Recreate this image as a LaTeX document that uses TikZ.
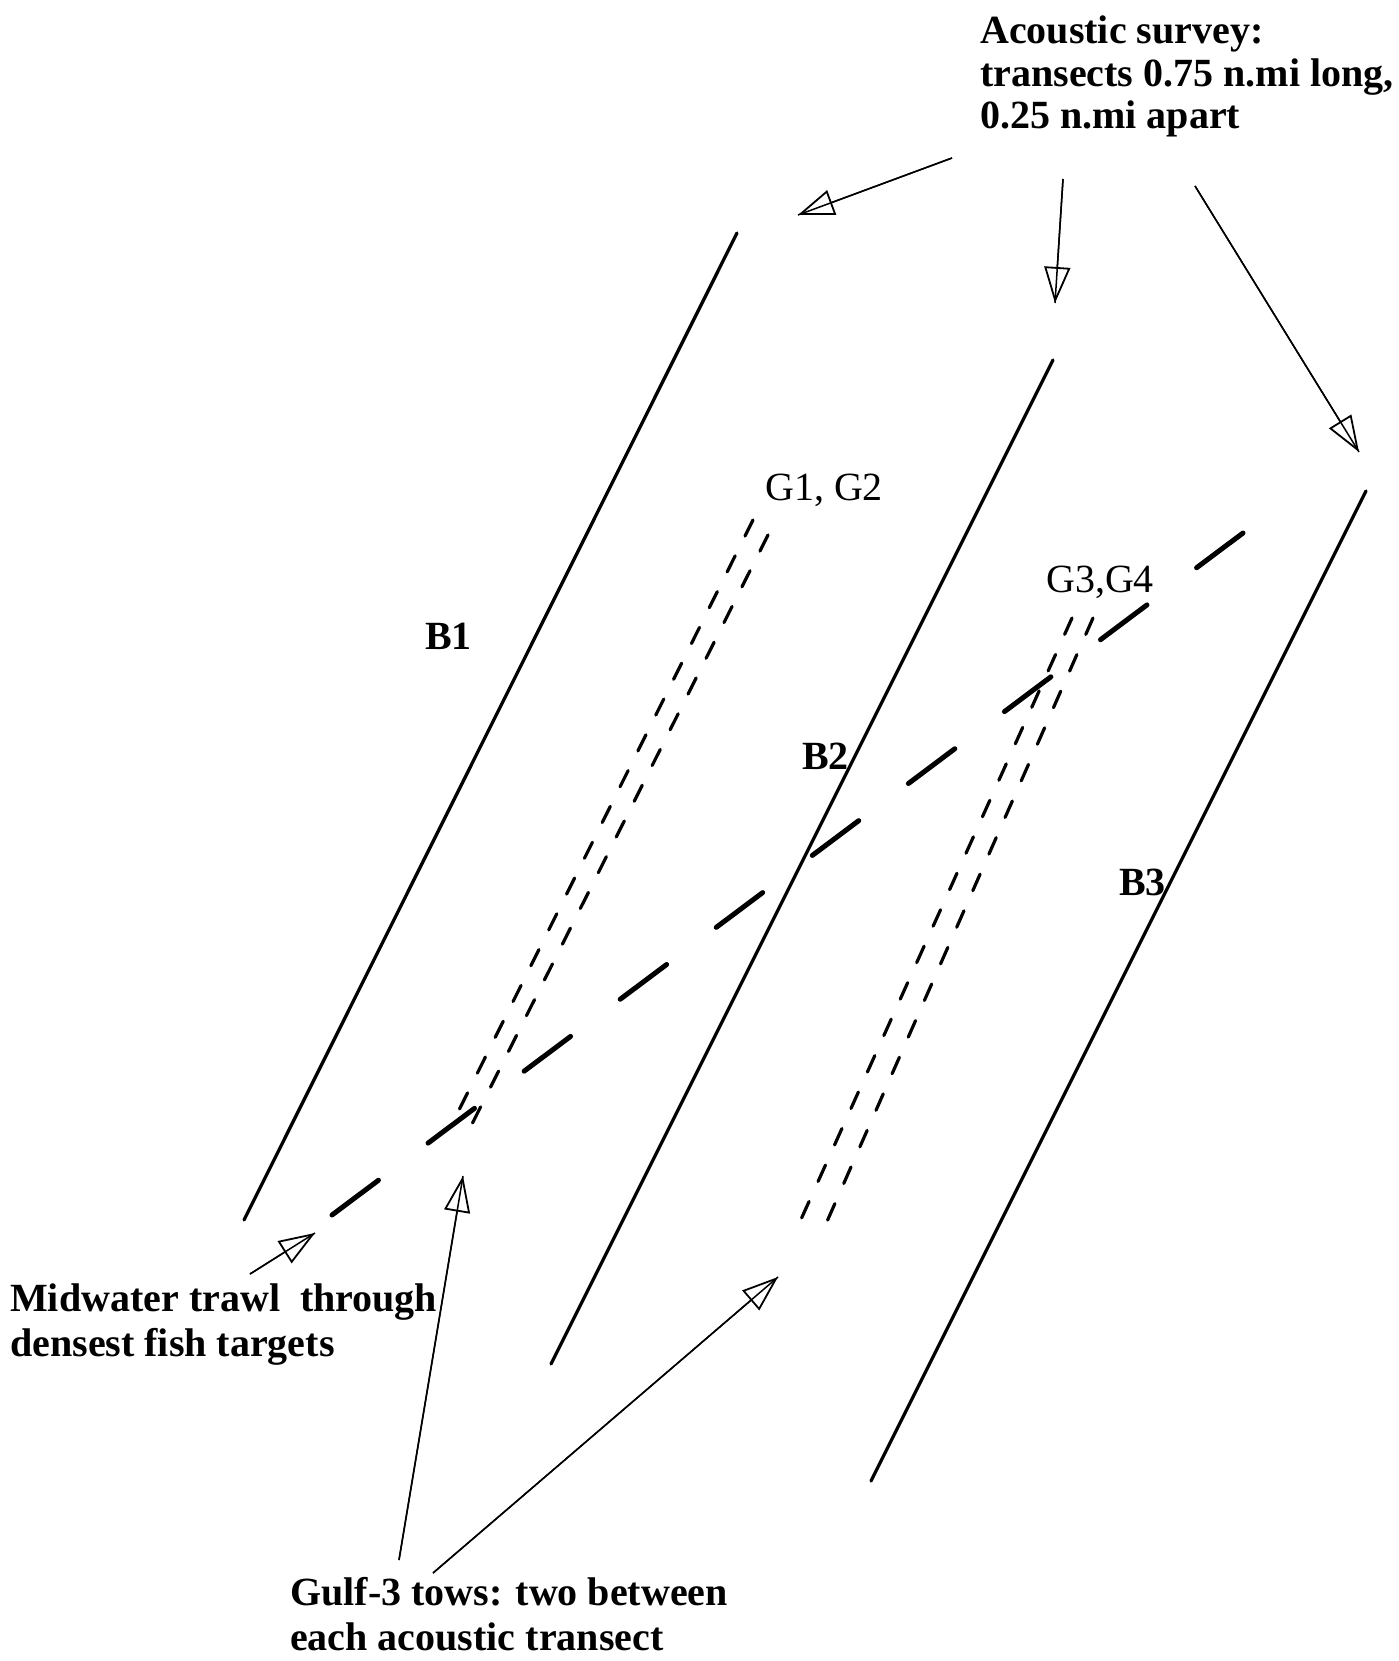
\documentclass[tikz,border=0pt]{standalone}
\usepackage{fontspec}
\setmainfont{Liberation Serif}
\usetikzlibrary{arrows.meta}
\begin{document}
\begin{tikzpicture}[x=1pt,y=-1pt,
  transect/.style={line width=3.3pt, line cap=round},
  tow/.style={line width=3.2pt, line cap=round, dash pattern=on 18pt off 22pt},
  trawl/.style={line width=5pt, line cap=round, dash pattern=on 58pt off 62pt},
  callout/.style={line width=1.5pt},
  calloutarrow/.style={callout, -{Triangle[open, length=36pt, width=26pt, line width=1.8pt]}},
  lbl/.style={inner sep=0pt, anchor=base west, font=\fontsize{40}{40}\selectfont},
  blbl/.style={inner sep=0pt, anchor=base west, font=\fontsize{40}{40}\selectfont\bfseries},
]
% page frame
\fill[white] (0,0) rectangle (1398,1661);
\useasboundingbox (0,0) rectangle (1398,1661);

% acoustic transects
\coordinate (b1t) at (737,233);  \coordinate (b1b) at (244,1220);
\coordinate (b2t) at (1053,360); \coordinate (b2b) at (551,1364);
\coordinate (b3t) at (1366,491); \coordinate (b3b) at (871,1481);
\draw[transect] (b1t) -- (b1b);
\draw[transect] (b2t) -- (b2b);
\draw[transect] (b3t) -- (b3b);

% Gulf-3 tows, two between each pair of transects
\coordinate (g1t) at (753,520);  \coordinate (g1b) at (455,1118);
\coordinate (g2t) at (768,535);  \coordinate (g2b) at (468,1132);
\coordinate (g3t) at (1072,618); \coordinate (g3b) at (798,1226);
\coordinate (g4t) at (1093,618); \coordinate (g4b) at (825,1226);
\draw[tow] (g1t) -- (g1b);
\draw[tow] (g2t) -- (g2b);
\draw[tow] (g3t) -- (g3b);
\draw[tow] (g4t) -- (g4b);

% midwater trawl track
\coordinate (mwt) at (1243,533); \coordinate (mwb) at (328,1218);
\draw[trawl] (mwt) -- (mwb);

% labels
\node[blbl] (surv1) at (980,44)  {Acoustic survey:};
\node[blbl] (surv2) at (980,87)  {transects 0.75 n.mi long,};
\node[blbl] (surv3) at (980,129) {0.25 n.mi apart};
\node[lbl]  (g12) at (765,500)  {G1, G2};
\node[lbl]  (g34) at (1046,592) {G3,G4};
\node[blbl] (lb1) at (425,649)  {B1};
\node[blbl] (lb2) at (802,769)  {B2};
\node[blbl] (lb3) at (1119,895) {B3};
\node[blbl] (mid1) at (10,1311) {Midwater trawl~~through};
\node[blbl] (mid2) at (10,1356) {densest fish targets};
\node[blbl] (gulf1) at (290,1605) {Gulf-3 tows: two between};
\node[blbl] (gulf2) at (290,1650) {each acoustic transect};

% callout arrows
\coordinate (a1s) at (952,158);  \coordinate (a1t) at (798,215);
\coordinate (a2s) at (1063,179); \coordinate (a2t) at (1055,303);
\coordinate (a3s) at (1195,186); \coordinate (a3t) at (1359,452);
\coordinate (a4s) at (250,1274); \coordinate (a4t) at (315,1233);
\coordinate (a5s) at (399,1560); \coordinate (a5t) at (463,1176);
\coordinate (a6s) at (433,1573); \coordinate (a6t) at (778,1277);
\foreach \a in {1,...,6}{
  \draw[callout] (a\a s) -- (a\a t);
  \draw[calloutarrow] (a\a s) -- (a\a t);
}
\end{tikzpicture}
\end{document}
